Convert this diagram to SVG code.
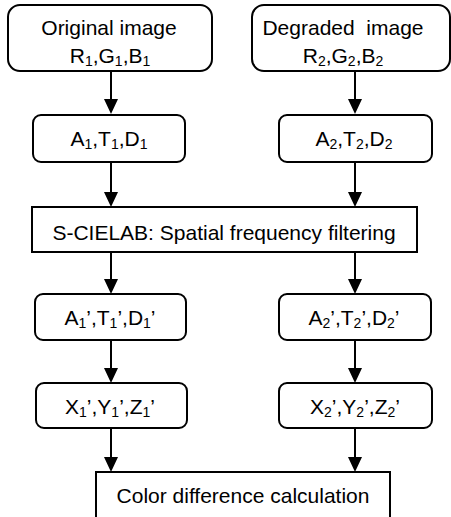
<svg xmlns="http://www.w3.org/2000/svg" width="451" height="517" viewBox="0 0 451 517">
<style>
  .box{fill:#fff;stroke:#000;stroke-width:2}
  .t{font-family:"Liberation Sans",Arial,sans-serif;font-size:21px;fill:#000;text-anchor:middle}
  .s{font-size:14px}
  .c{stroke:#000;stroke-width:2;fill:none;marker-end:url(#ah)}
</style>
<defs>
  <marker id="ah" markerUnits="userSpaceOnUse" markerWidth="15" markerHeight="14" viewBox="0 0 15 14" refX="11" refY="7" orient="auto">
    <path d="M0,0 L15,7 L0,14 z" fill="#000"/>
  </marker>
</defs>
<g id="connectors">
  <line class="c" x1="111" y1="71" x2="111" y2="110"/>
  <line class="c" x1="355" y1="71" x2="355" y2="110"/>
  <line class="c" x1="111" y1="162" x2="111" y2="203"/>
  <line class="c" x1="355" y1="162" x2="355" y2="203"/>
  <line class="c" x1="111" y1="252" x2="111" y2="290"/>
  <line class="c" x1="355" y1="252" x2="355" y2="290"/>
  <line class="c" x1="111" y1="340" x2="111" y2="379"/>
  <line class="c" x1="355" y1="340" x2="355" y2="379"/>
  <line class="c" x1="111" y1="428" x2="111" y2="468"/>
  <line class="c" x1="355" y1="428" x2="355" y2="468"/>
</g>
<g id="original">
  <rect class="box" x="8" y="5" width="204" height="66" rx="12"/>
  <text class="t" x="109" y="35">Original image</text>
  <text class="t" x="110" y="63">R<tspan class="s" dy="3">1</tspan><tspan dy="-3">,G</tspan><tspan class="s" dy="3">1</tspan><tspan dy="-3">,B</tspan><tspan class="s" dy="3">1</tspan></text>
</g>
<g id="degraded">
  <rect class="box" x="252" y="5" width="198" height="66" rx="12"/>
  <text class="t" x="343" y="35" xml:space="preserve">Degraded  image</text>
  <text class="t" x="343" y="63">R<tspan class="s" dy="3">2</tspan><tspan dy="-3">,G</tspan><tspan class="s" dy="3">2</tspan><tspan dy="-3">,B</tspan><tspan class="s" dy="3">2</tspan></text>
</g>
<g id="atd1">
  <rect class="box" x="33" y="115" width="152" height="47" rx="8"/>
  <text class="t" x="109" y="146">A<tspan class="s" dy="3">1</tspan><tspan dy="-3">,T</tspan><tspan class="s" dy="3">1</tspan><tspan dy="-3">,D</tspan><tspan class="s" dy="3">1</tspan></text>
</g>
<g id="atd2">
  <rect class="box" x="279" y="115" width="153" height="47" rx="8"/>
  <text class="t" x="354" y="146">A<tspan class="s" dy="3">2</tspan><tspan dy="-3">,T</tspan><tspan class="s" dy="3">2</tspan><tspan dy="-3">,D</tspan><tspan class="s" dy="3">2</tspan></text>
</g>
<g id="scielab">
  <rect class="box" x="32" y="207" width="385" height="45"/>
  <text class="t" x="224" y="240">S-CIELAB: Spatial frequency filtering</text>
</g>
<g id="atdp1">
  <rect class="box" x="35" y="294" width="151" height="46" rx="8"/>
  <text class="t" x="110" y="325">A<tspan class="s" dy="3">1</tspan><tspan dy="-3">’,T</tspan><tspan class="s" dy="3">1</tspan><tspan dy="-3">’,D</tspan><tspan class="s" dy="3">1</tspan><tspan dy="-3">’</tspan></text>
</g>
<g id="atdp2">
  <rect class="box" x="279" y="294" width="152" height="46" rx="8"/>
  <text class="t" x="354" y="325">A<tspan class="s" dy="3">2</tspan><tspan dy="-3">’,T</tspan><tspan class="s" dy="3">2</tspan><tspan dy="-3">’,D</tspan><tspan class="s" dy="3">2</tspan><tspan dy="-3">’</tspan></text>
</g>
<g id="xyz1">
  <rect class="box" x="36" y="383" width="151" height="45" rx="8"/>
  <text class="t" x="110" y="414">X<tspan class="s" dy="3">1</tspan><tspan dy="-3">’,Y</tspan><tspan class="s" dy="3">1</tspan><tspan dy="-3">’,Z</tspan><tspan class="s" dy="3">1</tspan><tspan dy="-3">’</tspan></text>
</g>
<g id="xyz2">
  <rect class="box" x="279" y="383" width="153" height="45" rx="8"/>
  <text class="t" x="355" y="414">X<tspan class="s" dy="3">2</tspan><tspan dy="-3">’,Y</tspan><tspan class="s" dy="3">2</tspan><tspan dy="-3">’,Z</tspan><tspan class="s" dy="3">2</tspan><tspan dy="-3">’</tspan></text>
</g>
<g id="colordiff">
  <rect class="box" x="96" y="472" width="294" height="50"/>
  <text class="t" x="243" y="503">Color difference calculation</text>
</g>
</svg>
